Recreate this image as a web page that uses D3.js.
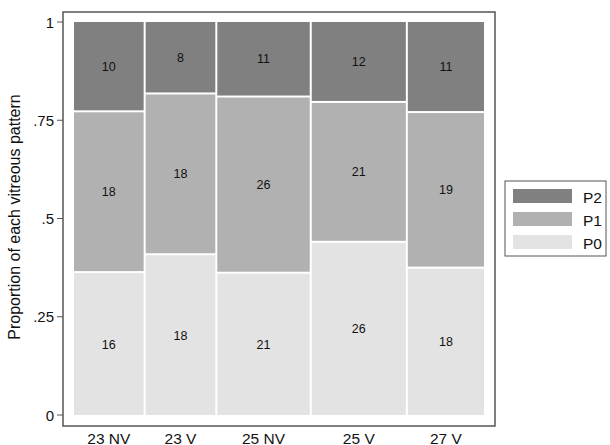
<!DOCTYPE html>
<html><head><meta charset="utf-8">
<script src="https://cdn.jsdelivr.net/npm/d3@7"></script>
<style>body{margin:0;background:#fff}svg{display:block;font-family:"Liberation Sans",Arial,sans-serif}</style>
</head><body><svg id="c" width="610" height="445"></svg>
<script>
const categories = ["23 NV","23 V","25 NV","25 V","27 V"];
const P0 = [16,18,21,26,18];
const P1 = [18,18,26,21,19];
const P2 = [10,8,11,12,11];
const series = ["P0","P1","P2"];
const yTicks = [0,0.25,0.5,0.75,1];
const yTickLabels = ["0",".25",".5",".75","1"];
const colors = {P0:"#e3e3e3",P1:"#b1b1b1",P2:"#808080"};

const svg = d3.select("#c");
const vals = {P0,P1,P2};
const totals = categories.map((c,i)=>P0[i]+P1[i]+P2[i]);
const grand = d3.sum(totals);
const x = d3.scaleLinear().domain([0,grand]).range([73,485]);
const y = d3.scaleLinear().domain([0,1]).range([415,22]);

// plot box
svg.append("rect").attr("x",63).attr("y",12).attr("width",432).attr("height",414)
  .attr("fill","#fff").attr("stroke","#555").attr("stroke-width",1.5);

let cum = 0;
categories.forEach((cat,i)=>{
  const x0 = cum, x1 = cum+totals[i]; cum = x1;
  let p = 0;
  series.forEach(s=>{
    const v = vals[s][i];
    const f0 = p/totals[i], f1 = (p+v)/totals[i]; p += v;
    const yb = y(f0) - (f0>0?1:0), yt = y(f1) + (f1<1?1:0);
    svg.append("rect").attr("x",x(x0)+1).attr("width",x(x1)-x(x0)-2)
      .attr("y",yt).attr("height",yb-yt).attr("fill",colors[s]);
    svg.append("text").attr("x",(x(x0)+x(x1))/2).attr("y",(yb+yt)/2+4.5)
      .attr("text-anchor","middle").attr("font-size",12.5).attr("fill","#111").text(v);
  });
  svg.append("text").attr("x",(x(x0)+x(x1))/2).attr("y",443.5)
    .attr("text-anchor","middle").attr("font-size",15.5).attr("fill","#111").text(cat);
});

// y axis ticks
yTicks.forEach((t,i)=>{
  svg.append("line").attr("x1",57).attr("x2",63).attr("y1",y(t)).attr("y2",y(t)).attr("stroke","#555").attr("stroke-width",1);
  svg.append("text").attr("x",54).attr("y",y(t)+5.5).attr("text-anchor","end").attr("font-size",15).attr("fill","#111").text(yTickLabels[i]);
});
svg.append("text").attr("transform","translate(20,217) rotate(-90)").attr("text-anchor","middle")
  .attr("font-size",16).attr("fill","#111").text("Proportion of each vitreous pattern");

// legend
const lg = svg.append("g");
lg.append("rect").attr("x",505).attr("y",181).attr("width",101).attr("height",75).attr("fill","#fff").attr("stroke","#555").attr("stroke-width",1);
["P2","P1","P0"].forEach((s,i)=>{
  lg.append("rect").attr("x",513).attr("y",189+i*23).attr("width",59).attr("height",14).attr("fill",colors[s]);
  lg.append("text").attr("x",583).attr("y",202.5+i*23).attr("font-size",15.5).attr("fill","#111").text(s);
});
</script></body></html>
